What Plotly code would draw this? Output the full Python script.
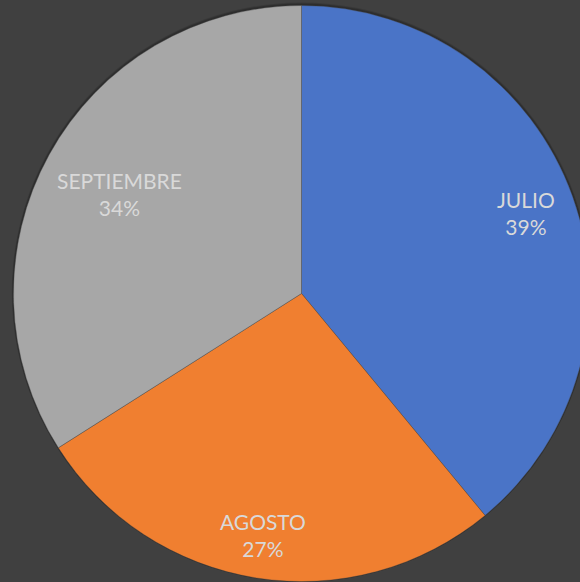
import math
import plotly.graph_objects as go

# Data
months = ["JULIO", "AGOSTO", "SEPTIEMBRE"]
values = [39, 27, 34]
colors = ["#4a74c7", "#f07f30", "#a7a7a7"]
label_radius = [0.83, 0.85, 0.72]

W, H = 600, 582
cx, cy, r = 301.5, 293.5, 288.0  # pixel geometry of the pie

dom_x = [(cx - r) / W, (cx + r) / W]
dom_y = [1 - (cy + r) / H, 1 - (cy - r) / H]

fig = go.Figure()

# soft shadow behind the pie
for k, a in [(291, 0.12), (290, 0.18)]:
    fig.add_trace(go.Pie(
        values=[1], labels=["shadow"], sort=False,
        marker=dict(colors=[f"rgba(0,0,0,{a})"], line=dict(width=0)),
        textinfo="none", hoverinfo="skip", showlegend=False,
        domain=dict(x=[(cx - k) / W, (cx + k) / W],
                    y=[max(0, 1 - (cy + k) / H), min(1, 1 - (cy - k) / H)]),
    ))

fig.add_trace(go.Pie(
    labels=months, values=values, sort=False, direction="clockwise",
    rotation=0,
    marker=dict(colors=colors, line=dict(color="rgba(70,70,70,0.6)", width=0.6)),
    textinfo="none", showlegend=False,
    domain=dict(x=dom_x, y=dom_y),
))

total = sum(values)
cum = 0
for m, v, lr in zip(months, values, label_radius):
    mid = (cum + v / 2) / total * 2 * math.pi
    cum += v
    px = cx + lr * r * math.sin(mid)
    py = cy - lr * r * math.cos(mid)
    pct = round(100 * v / total)
    fig.add_annotation(
        x=px / W, y=1 - py / H, xref="paper", yref="paper",
        xanchor="center", yanchor="middle",
        text=f"{m}<br>{pct}%", showarrow=False,
        font=dict(family="Lato, Open Sans, sans-serif", size=21, color="#d9d9d9"),
        align="center",
    )

fig.update_layout(
    width=W, height=H,
    margin=dict(l=0, r=0, t=0, b=0),
    paper_bgcolor="#404040",
    plot_bgcolor="#404040",
)

fig.write_html(
    "out.html",
    config={"displayModeBar": False},
    post_script="document.body.style.margin='0';document.body.style.overflow='hidden';"
                "document.documentElement.style.overflow='hidden';",
)
